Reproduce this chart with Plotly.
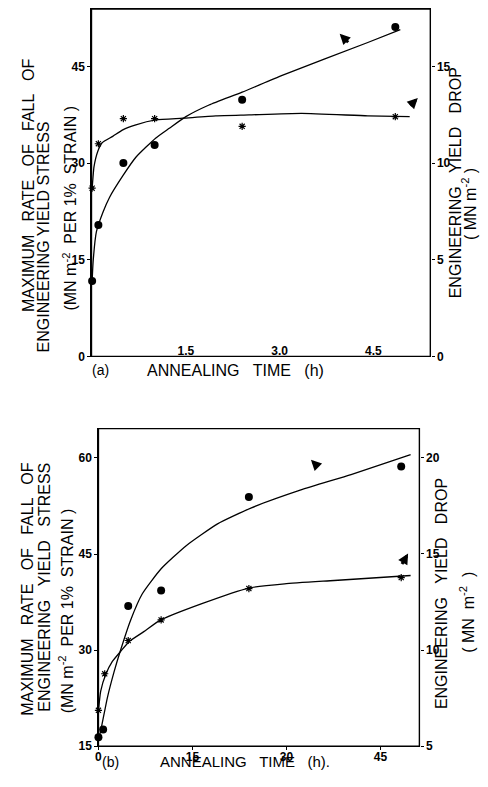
import plotly.graph_objects as go

# ---------------- data ----------------
# Panel (a)
a_time = [0, 0.1, 0.5, 1.0, 2.4, 4.85]
a_rate = [11.7, 20.4, 30.0, 32.8, 39.8, 51.1]          # circles, left axis
a_drop = [8.7, 11.0, 12.3, 12.3, 11.9, 12.4]           # stars, right axis

a_rate_curve_t = [0, 0.016, 0.068, 0.175, 0.28, 0.49, 0.70, 1.02, 1.235, 1.50, 1.87, 2.40, 3.04, 4.41, 4.93]
a_rate_curve_v = [11.6, 14.7, 19.3, 22.4, 24.7, 28.0, 30.9, 33.9, 35.4, 37.2, 39.0, 41.0, 43.6, 48.7, 50.7]
a_drop_curve_t = [0, 0.03, 0.09, 0.16, 0.33, 0.49, 0.70, 1.02, 1.45, 1.98, 2.51, 3.35, 4.41, 5.08]
a_drop_curve_v = [8.65, 9.8, 10.6, 11.05, 11.38, 11.72, 11.98, 12.23, 12.32, 12.44, 12.49, 12.57, 12.44, 12.40]

# Panel (b)
b_time = [0, 0.75, 4.75, 10, 24, 48.3]
b_rate = [16.4, 17.6, 36.9, 39.3, 53.9, 58.65]        # circles, left axis
b_time_s = [0, 1.0, 4.75, 10, 24, 48.3]
b_drop = [6.87, 8.77, 10.5, 11.57, 13.2, 13.77]        # stars, right axis

b_rate_curve_t = [0.1, 0.4, 1.43, 2.49, 3.5, 5.1, 7.0, 10.0, 14.0, 19.0, 24.4, 32.3, 40.3, 49.8]
b_rate_curve_v = [16.4, 17.6, 22.6, 26.6, 29.9, 34.6, 38.8, 42.7, 46.3, 49.7, 52.2, 55.0, 57.4, 60.5]
b_drop_curve_t = [0, 0.36, 1.16, 2.22, 3.53, 4.87, 7.24, 9.87, 16.5, 24.0, 29.7, 37.6, 49.8]
b_drop_curve_v = [6.84, 7.87, 8.73, 9.41, 9.93, 10.44, 10.96, 11.56, 12.42, 13.23, 13.45, 13.62, 13.88]

a_xticks = [1.5, 3.0, 4.5]
a_xticklabels = ["1.5", "3.0", "4.5"]
a_left_ticks = [0, 15, 30, 45]
a_right_ticks = [0, 5, 10, 15]
b_xticks = [0, 15, 30, 45]
b_left_ticks = [15, 30, 45, 60]
b_right_ticks = [5, 10, 15, 20]

# ---------------- figure ----------------
OFF = 8                      # default page margin of the html body
W, H = 488 - 2 * OFF, 787 - 2 * OFF
FONT = "Liberation Sans, Arial, sans-serif"
TICKFONT = dict(family=FONT, size=12, color="black", weight="bold")


def px_x(p):
    return min(1.0, max(0.0, (p - OFF) / W))


def px_y(p):
    return min(1.0, max(0.0, 1 - (p - OFF) / H))


fig = go.Figure()

line_style = dict(color="black", width=1.3, shape="spline", smoothing=0.5)
circle_marker = dict(symbol="circle", size=8, color="black")
star_marker = dict(symbol="asterisk-open", size=6, color="black", line=dict(color="black", width=1.2))

# panel (a)
fig.add_trace(go.Scatter(x=a_rate_curve_t, y=a_rate_curve_v, mode="lines", line=line_style,
                         xaxis="x", yaxis="y", showlegend=False, hoverinfo="skip"))
fig.add_trace(go.Scatter(x=a_drop_curve_t, y=a_drop_curve_v, mode="lines", line=line_style,
                         xaxis="x", yaxis="y2", showlegend=False, hoverinfo="skip"))
fig.add_trace(go.Scatter(x=a_time, y=a_rate, mode="markers", marker=circle_marker,
                         xaxis="x", yaxis="y", showlegend=False, cliponaxis=False))
fig.add_trace(go.Scatter(x=a_time, y=a_drop, mode="markers", marker=star_marker,
                         xaxis="x", yaxis="y2", showlegend=False, cliponaxis=False))

# panel (b)
fig.add_trace(go.Scatter(x=b_rate_curve_t, y=b_rate_curve_v, mode="lines", line=line_style,
                         xaxis="x2", yaxis="y3", showlegend=False, hoverinfo="skip"))
fig.add_trace(go.Scatter(x=b_drop_curve_t, y=b_drop_curve_v, mode="lines", line=line_style,
                         xaxis="x2", yaxis="y4", showlegend=False, hoverinfo="skip"))
fig.add_trace(go.Scatter(x=b_time, y=b_rate, mode="markers", marker=circle_marker,
                         xaxis="x2", yaxis="y3", showlegend=False, cliponaxis=False))
fig.add_trace(go.Scatter(x=b_time_s, y=b_drop, mode="markers", marker=star_marker,
                         xaxis="x2", yaxis="y4", showlegend=False, cliponaxis=False))

axis_common = dict(showgrid=False, zeroline=False, showline=True, linecolor="black",
                   linewidth=1.4, tickfont=TICKFONT, ticks="outside", ticklen=3,
                   tickcolor="black", tickwidth=1)

a_dom_x = [px_x(89), px_x(430)]
a_dom_y = [px_y(359), px_y(8)]
b_dom_x = [px_x(96), px_x(419)]
b_dom_y = [px_y(753), px_y(432)]

fig.update_layout(
    width=W, height=H,
    margin=dict(l=0, r=0, t=0, b=0),
    paper_bgcolor="white", plot_bgcolor="white",
    xaxis=dict(axis_common, domain=a_dom_x, anchor="y", range=[-0.01, 5.41],
               tickvals=a_xticks, ticktext=a_xticklabels, ticks="",
               ticklabelstandoff=-17, mirror=True),
    yaxis=dict(axis_common, domain=a_dom_y, anchor="x", range=[0, 53.9],
               tickvals=a_left_ticks),
    yaxis2=dict(axis_common, domain=a_dom_y, anchor="x", overlaying="y", side="right",
                range=[0, 17.97], tickvals=a_right_ticks),
    xaxis2=dict(axis_common, domain=b_dom_x, anchor="y3", range=[0, 51.2],
                tickvals=b_xticks, mirror=True, ticklabelstandoff=-4),
    yaxis3=dict(axis_common, domain=b_dom_y, anchor="x2", range=[15, 64.57],
                tickvals=b_left_ticks),
    yaxis4=dict(axis_common, domain=b_dom_y, anchor="x2", overlaying="y3", side="right",
                range=[5, 21.52], tickvals=b_right_ticks),
)

# plot frames (box around each panel)
for xr, yr in (("x", "y"), ("x2", "y3")):
    fig.add_shape(type="rect", xref=xr + " domain", yref=yr + " domain",
                  x0=0, x1=1, y0=0, y1=1, line=dict(color="black", width=1.4),
                  fillcolor="rgba(0,0,0,0)", layer="above")

NB = "\u00a0"


def label(text, x, y, angle=-90, size=16, yanchor="middle"):
    fig.add_annotation(text=text, x=px_x(x), y=px_y(y), xref="paper", yref="paper",
                       showarrow=False, textangle=angle, xanchor="center", yanchor=yanchor,
                       font=dict(family=FONT, size=size, color="black"))


def sp(words, n):
    return (" " + NB * n).join(words)


# panel (a) titles
label(sp(["MAXIMUM", "RATE", "OF", "FALL", "OF"], 2), 25, 186)
label(sp(["ENGINEERING", "YIELD", "STRESS"], 0), 41, 238)
label("(MN m<sup>-2</sup>" + NB + " PER 1%" + NB + " STRAIN )", 67, 209)
label(sp(["ENGINEERING", "YIELD", "DROP"], 2), 455, 184)
label("( MN m<sup>-2</sup> )", 469, 205)
label(sp(["ANNEALING", "TIME", "(h)"], 2), 234, 373, angle=0)
label("(a)", 98, 373, angle=0, size=14)

# panel (b) titles
label(sp(["MAXIMUM", "RATE", "OF", "FALL", "OF"], 2), 25, 594)
label(sp(["ENGINEERING", "YIELD", "STRESS"], 2), 42, 592)
label("(MN m<sup>-2</sup>" + NB + " PER 1%" + NB + " STRAIN )", 63, 616)
label(sp(["ENGINEERING", "YIELD", "DROP"], 2), 442, 599)
label("(" + NB + "MN" + NB + " m<sup>-2</sup>" + NB + " )", 467, 618)
label(sp(["ANNEALING", "TIME", "(h)."], 2), 243, 779, angle=0, size=15, yanchor="bottom")
label("(b)", 108, 779, angle=0, size=14, yanchor="bottom")

# axis indicator arrows
arrow = dict(showarrow=True, arrowhead=2, arrowsize=0.7, arrowwidth=3, arrowcolor="black", text="")
fig.add_annotation(x=3.96, y=50.05, xref="x", yref="y", ax=10, ay=10, **arrow)
fig.add_annotation(x=5.21, y=13.36, xref="x", yref="y2", ax=-9, ay=9, **arrow)
fig.add_annotation(x=33.9, y=59.7, xref="x2", yref="y3", ax=8, ay=8, **arrow)
fig.add_annotation(x=49.4, y=15.02, xref="x2", yref="y4", ax=-7, ay=12, **arrow)

fig.write_html("out.html")
